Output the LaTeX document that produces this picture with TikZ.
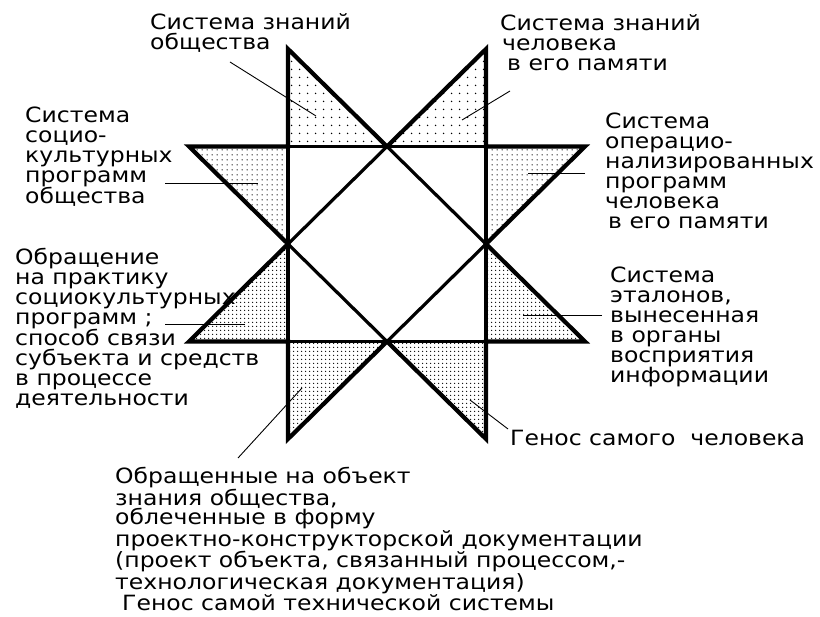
\documentclass[tikz,border=0pt]{standalone}
\usepackage{fontspec}
\newfontfamily\lblfont[FakeStretch=1.12]{DejaVu Sans}
\usetikzlibrary{patterns.meta}
\tikzdeclarepattern{name=dotsparse,type=uncolored,bottom left={(0pt,0pt)},top right={(8pt,8pt)},tile size={(8pt,8pt)},
  code={\pgfpathcircle{\pgfpoint{4pt}{4pt}}{0.9pt}\pgfusepath{fill}}}
\tikzdeclarepattern{name=dotmedium,type=uncolored,bottom left={(0pt,0pt)},top right={(5pt,5pt)},tile size={(5pt,5pt)},
  code={\pgfpathcircle{\pgfpoint{2.5pt}{2.5pt}}{0.8pt}\pgfusepath{fill}}}
\tikzdeclarepattern{name=dotdense,type=uncolored,bottom left={(0pt,0pt)},top right={(3.6pt,3.6pt)},tile size={(3.6pt,3.6pt)},
  code={\pgfpathcircle{\pgfpoint{1.8pt}{1.8pt}}{0.7pt}\pgfusepath{fill}}}
\begin{document}
\begin{tikzpicture}[x=1pt,y=-1pt,
  lbl/.style={font=\lblfont\fontsize{21}{20}\selectfont, align=left, anchor=north west, inner sep=0pt},
  leader/.style={line width=0.9pt},
  inner/.style={line width=3.2pt},
  outline/.style={line width=4.2pt, line join=miter},
  sparse/.style={pattern=dotsparse, pattern color=black},
  medium/.style={pattern=dotmedium, pattern color=black},
  dense/.style={pattern=dotdense, pattern color=black}]
\useasboundingbox (0,0) rectangle (820,617);
% key points
\coordinate (A) at (288,49);
\coordinate (B) at (486,49);
\coordinate (HL1) at (189,146.5);
\coordinate (P1) at (288,146.5);
\coordinate (T) at (387,146.5);
\coordinate (P2) at (486,146.5);
\coordinate (HR1) at (585,146.5);
\coordinate (L) at (288,244);
\coordinate (R) at (486,244);
\coordinate (HL2) at (189,341.5);
\coordinate (P4) at (288,341.5);
\coordinate (Bm) at (387,341.5);
\coordinate (P3) at (486,341.5);
\coordinate (HR2) at (585,341.5);
\coordinate (C) at (288,439);
\coordinate (D) at (486,439);
% shaded points of the star
\fill[sparse] (A) -- (P1) -- (T) -- cycle;
\fill[sparse] (B) -- (P2) -- (T) -- cycle;
\fill[medium] (HL1) -- (P1) -- (L) -- cycle;
\fill[medium] (HR1) -- (P2) -- (R) -- cycle;
\fill[dense] (HL2) -- (P4) -- (L) -- cycle;
\fill[dense] (HR2) -- (P3) -- (R) -- cycle;
\fill[dense] (C) -- (P4) -- (Bm) -- cycle;
\fill[dense] (D) -- (P3) -- (Bm) -- cycle;
% inner lines
\draw[inner] (P1) -- (P2) (P4) -- (P3) (P1) -- (P4) (P2) -- (P3);
\draw[inner] (T) -- (R) -- (Bm) -- (L) -- cycle;
% star outline
\draw[outline] (A) -- (T) -- (B) -- (P2) -- (HR1) -- (R) -- (HR2) -- (P3) -- (D) -- (Bm)
  -- (C) -- (P4) -- (HL2) -- (L) -- (HL1) -- (P1) -- cycle;
% labels
\node[lbl] (tl) at (150,13.5) {Система знаний\\общества};
\node[lbl] (tr) at (500,14.5) {Система знаний\\\hspace*{2pt}человека\\\hspace*{7pt}в его памяти};
\node[lbl] (lu) at (25,106.5) {Система\\социо-\\культурных\\программ\\общества};
\node[lbl] (ru) at (605,112.5) {Система\\операцио-\\нализированных\\программ\\человека\\\hspace*{3pt}в его памяти};
\node[lbl] (ll) at (15,247.5) {Обращение\\на практику\\социокультурных\\программ ;\\способ связи\\субъекта и средств\\в процессе\\деятельности};
\node[lbl] (rl) at (610,266.5) {Система\\эталонов,\\вынесенная\\в органы\\восприятия\\информации};
\node[lbl] (gh) at (510,429.5) {Генос самого\ \ человека};
\node[lbl, font=\lblfont\fontsize{21}{19.7}\selectfont] (bt) at (115,467) {Обращенные на объект\\знания общества,\\облеченные в форму\\проектно-конструкторской документации\\(проект объекта, связанный процессом,-\\технологическая документация)\\\hspace*{7pt}Генос самой технической системы};
% leader lines
\coordinate (tlA) at (230,62);   \coordinate (tlB) at (316,116);
\coordinate (trA) at (510,91);   \coordinate (trB) at (462,120);
\coordinate (luA) at (165,183);  \coordinate (luB) at (258,183);
\coordinate (ruA) at (585,173);  \coordinate (ruB) at (528,173);
\coordinate (llA) at (165,324);  \coordinate (llB) at (245,324);
\coordinate (rlA) at (602,315);  \coordinate (rlB) at (523,315);
\coordinate (blA) at (238,458);  \coordinate (blB) at (302,388);
\coordinate (brA) at (508,429);  \coordinate (brB) at (470,400);
\draw[leader] (tlA) -- (tlB);
\draw[leader] (trA) -- (trB);
\draw[leader] (luA) -- (luB);
\draw[leader] (ruA) -- (ruB);
\draw[leader] (llA) -- (llB);
\draw[leader] (rlA) -- (rlB);
\draw[leader] (blA) -- (blB);
\draw[leader] (brA) -- (brB);
\end{tikzpicture}
\end{document}
